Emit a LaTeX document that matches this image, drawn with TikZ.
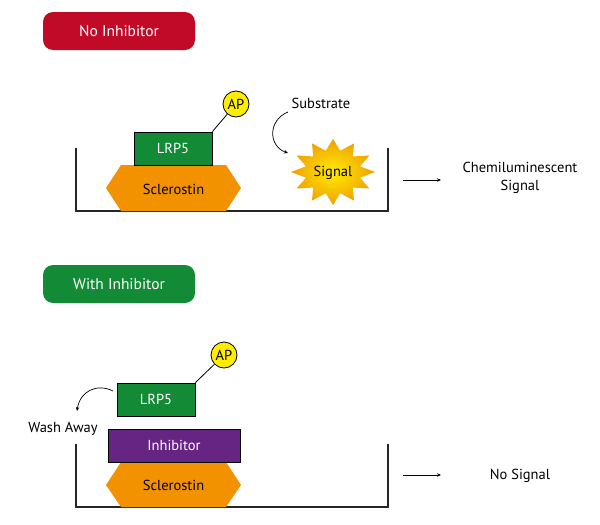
\documentclass[tikz,border=0pt]{standalone}
\usepackage{fontspec}
\setmainfont{PT Sans}
\usetikzlibrary{arrows.meta}
\definecolor{nored}{HTML}{C10A27}
\definecolor{wgreen}{HTML}{138A36}
\definecolor{lgreen}{HTML}{138A36}
\definecolor{inhpurple}{HTML}{662483}
\definecolor{sclorange}{HTML}{F39200}
\definecolor{apyellow}{HTML}{FFED00}
\definecolor{sigorange}{HTML}{F0A000}
\begin{document}
\begin{tikzpicture}[x=1pt,y=-1pt,font=\fontsize{14.5}{18}\selectfont,
  btn/.style={rounded corners=10pt,minimum width=152pt,minimum height=38pt,text=white,font=\fontsize{15.5}{18}\selectfont,inner sep=0pt},
  protbox/.style={draw=black,line width=0.8pt,text=white,minimum height=33pt,inner sep=0pt},
  apnode/.style={circle,draw=black,line width=0.8pt,fill=apyellow,minimum size=26pt,inner sep=0pt},
  lbl/.style={text=black,align=center,inner sep=0pt},
  arr/.style={-{Stealth[length=4pt,width=3.5pt]},line width=0.7pt},
  well/.style={line width=1.2pt,draw=black!85},
  hexfill/.style={fill=sclorange}]
\useasboundingbox (0,0) rectangle (600,525);

% ---------- top panel ----------
\node[btn,fill=nored] (b1) at (119,31) {No Inhibitor};
\draw[well] (76,148) |- (388,211) -- (388,148);
\fill[hexfill] (106,188) -- (121,165) -- (226,165) -- (241,188) -- (226,211) -- (121,211) -- cycle;
\node[lbl] (scl1) at (173.5,189) {Sclerostin};
\node[protbox,fill=lgreen,minimum width=78pt] (lrp1) at (173,148.5) {LRP5};
\node[apnode] (ap1) at (236,104) {AP};
\draw[line width=0.8pt] (lrp1.north east) -- (ap1);
\node[lbl] (sub) at (321,103) {Substrate};
\shade[inner color=apyellow,outer color=sigorange]
  plot[samples at={0,...,23}] ({333+(42-14*mod(\x,2))*cos(90+15*\x)},{172+(33-11*mod(\x,2))*sin(90+15*\x)}) -- cycle;
\node[lbl] (sig) at (333,173) {Signal};
\coordinate (s1) at (288,112);
\coordinate (s2) at (288,153);
\draw[arr] (s1) .. controls (268,120) and (268,146) .. (s2);
\coordinate (a1) at (403,180);
\coordinate (a2) at (441,180);
\draw[arr] (a1) -- (a2);
\node[lbl] (chem) at (520,178) {Chemiluminescent\\Signal};

% ---------- bottom panel ----------
\node[btn,fill=wgreen] (b2) at (119,284) {With Inhibitor};
\draw[well] (76,444) |- (388,507) -- (388,444);
\fill[hexfill] (106,485) -- (121,462) -- (226,462) -- (241,485) -- (226,507) -- (121,507) -- cycle;
\node[lbl] (scl2) at (173.5,485) {Sclerostin};
\node[protbox,fill=inhpurple,minimum width=132pt] (inh) at (174,445.5) {Inhibitor};
\node[protbox,fill=lgreen,minimum width=78pt] (lrp2) at (156,399.5) {LRP5};
\node[apnode] (ap2) at (224,355) {AP};
\draw[line width=0.8pt] (lrp2.north east) -- (ap2);
\node[lbl] (wash) at (63,429) {Wash Away};
\coordinate (w1) at (113,391);
\coordinate (w2) at (77,411);
\draw[arr] (w1) .. controls (97,383) and (80,391) .. (w2);
\coordinate (a3) at (403,475);
\coordinate (a4) at (441,475);
\draw[arr] (a3) -- (a4);
\node[lbl] (nosig) at (520,476) {No Signal};
\end{tikzpicture}
\end{document}
